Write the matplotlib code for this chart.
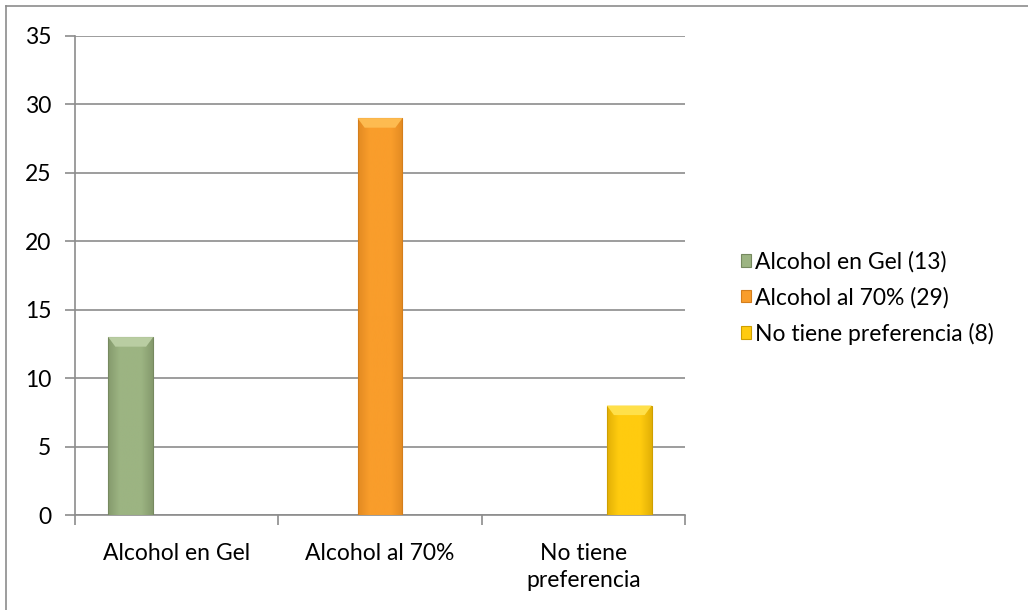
import matplotlib.pyplot as plt
import numpy as np
from matplotlib.patches import Polygon
from matplotlib.colors import LinearSegmentedColormap

# Data
categories = ['Alcohol en Gel', 'Alcohol al 70%', 'No tiene\npreferencia']
series_names = ['Alcohol en Gel (13)', 'Alcohol al 70% (29)', 'No tiene preferencia (8)']
series_values = [13, 29, 8]
series_colors = ['#9cb482', '#f99d2b', '#ffcb0f']
series_light = ['#b9cda2', '#fdbb50', '#ffe04a']
series_dark = ['#76895f', '#d47e1c', '#cf9f00']

plt.rcParams['font.family'] = ['Lato', 'DejaVu Sans']
fs = 16.5

fig = plt.figure(figsize=(10.28, 6.10), dpi=100)
ax = fig.add_axes([75 / 1028, 1 - 515 / 610, 610 / 1028, (515 - 36) / 610])

# outer chart border (only left and top visible in the reference)
fig.add_artist(plt.Line2D([6 / 1028, 6 / 1028], [0, 1 - 6 / 610],
                          transform=fig.transFigure, color='#8c8c8c', lw=1.2))
fig.add_artist(plt.Line2D([6 / 1028, 1], [1 - 6 / 610, 1 - 6 / 610],
                          transform=fig.transFigure, color='#8c8c8c', lw=1.2))

bar_w = 0.221
offsets = [-0.226, 0.0, 0.226]
handles = []
for i, (name, val) in enumerate(zip(series_names, series_values)):
    x = i + 0.5 + offsets[i]
    bars = ax.bar(x, val, width=bar_w, color=series_colors[i],
                  edgecolor=series_dark[i], linewidth=0.8, zorder=3, label=name)
    # horizontal shading inside the bar
    cmap = LinearSegmentedColormap.from_list(
        'g%d' % i, [series_dark[i], series_colors[i], series_colors[i],
                    series_colors[i], series_dark[i]])
    grad = np.linspace(0, 1, 100).reshape(1, -1)
    im = ax.imshow(grad, extent=[x - bar_w / 2, x + bar_w / 2, 0, val], aspect='auto',
                   cmap=cmap, zorder=3.5, alpha=0.6)
    im.set_clip_path(bars[0])
    # light bevel at top
    l, r = x - bar_w / 2, x + bar_w / 2
    d = 0.035
    ax.add_patch(Polygon([(l, val), (r, val), (r - d, val - 0.7), (l + d, val - 0.7)],
                         closed=True, color=series_light[i], zorder=4, lw=0))
    handles.append(bars[0])

ax.set_xlim(0, 3)
ax.set_ylim(0, 35)
ax.set_yticks(range(0, 36, 5))
ax.set_xticks([0, 1, 2, 3])
ax.set_xticklabels([])
ax.set_xticks([0.5, 1.5, 2.5], minor=True)
ax.set_xticklabels(categories, minor=True, fontsize=fs, linespacing=1.35)
ax.tick_params(axis='x', which='minor', length=0, pad=20)
ax.tick_params(axis='x', which='major', length=7, direction='out', color='#8c8c8c', width=1.2)
ax.tick_params(axis='y', length=7, direction='out', color='#8c8c8c', width=1.2,
               labelsize=fs, pad=10)
ax.yaxis.grid(True, color='#8c8c8c', lw=1.2, zorder=0)
ax.set_axisbelow(True)
for s in ['top', 'right']:
    ax.spines[s].set_visible(False)
for s in ['left', 'bottom']:
    ax.spines[s].set_color('#8c8c8c')
    ax.spines[s].set_linewidth(1.2)

ax.legend(handles=handles, labels=series_names, loc='center left',
          bbox_to_anchor=(741 / 1028, 1 - 298 / 610), bbox_transform=fig.transFigure,
          frameon=False, fontsize=fs, handlelength=0.45, handleheight=0.45,
          handletextpad=0.15, labelspacing=0.62, borderpad=0, borderaxespad=0)

fig.savefig('out.png', dpi=100, facecolor='white')
